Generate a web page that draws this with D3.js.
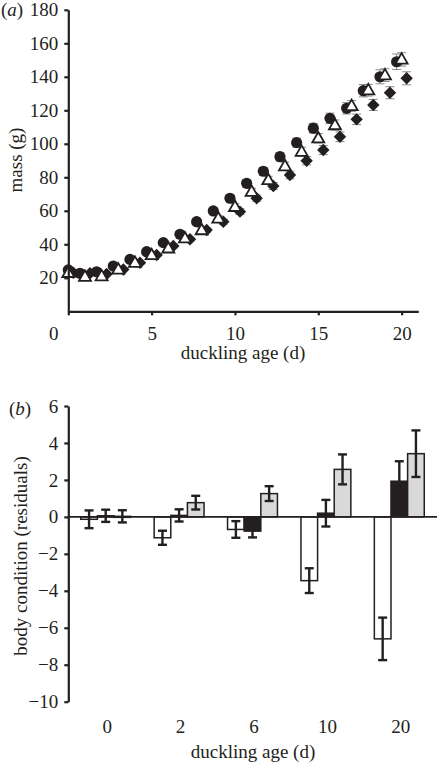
<!DOCTYPE html>
<html><head><meta charset="utf-8">
<script src="https://cdn.jsdelivr.net/npm/d3@7"></script>
<style>
body{margin:0;background:#fff}
svg{display:block}
text{font-family:"Liberation Serif","Times New Roman",serif;fill:#231f20}
</style>
</head><body>
<svg id="c" width="437" height="763"></svg>
<script>
// ---------- Panel (a) data ----------
const ages = [0,1,2,3,4,5,6,7,8,9,10,11,12,13,14,15,16,17,18,19,20];
const massCircle   = [24.7,22.7,23.6,27,31,35.6,41,46,53.5,59.9,67.5,76.4,83.6,92.3,100.7,109.3,115.2,121.2,131.7,140,149];
const massTriangle = [23,20.7,21,25,29,33.6,37.6,43.6,48.5,55.5,62.4,71.4,78.4,86.7,95.3,103.3,111.2,122.6,132,141,150.4];
const massDiamond  = [23,22.7,22.3,25,29,33.6,39,43,48.5,53.5,59.5,67.5,74.8,81.4,89.9,96.3,104.2,114.6,123.2,130.5,139.1];
const seCircle   = [0.8,0.6,0.7,0.8,0.9,1.0,1.1,1.3,1.5,1.7,1.9,2.1,2.3,2.5,2.7,2.9,3.1,3.4,3.7,4.2,4.6];
const seTriangle = [0.8,0.6,0.7,0.8,0.9,1.0,1.1,1.2,1.4,1.6,1.8,2.0,2.2,2.4,2.6,2.8,3.0,3.2,3.5,3.8,4.0];
const seDiamond  = [0.7,0.6,0.6,0.7,0.8,0.9,1.0,1.1,1.3,1.5,1.7,1.9,2.1,2.3,2.5,2.7,2.9,3.1,3.3,3.6,3.9];
const massTicks = [20,40,60,80,100,120,140,160,180];
const ageTicks = [0,5,10,15,20];

// ---------- Panel (b) data ----------
const groups = ["0","2","6","10","20"];
const condWhite = [-0.13,-1.13,-0.68,-3.45,-6.6];
const condBlack = [0.06,0.08,-0.77,0.2,1.93];
const condGrey  = [0.03,0.77,1.26,2.57,3.42];
const seWhite = [0.48,0.38,0.45,0.67,1.15];
const seBlack = [0.33,0.33,0.34,0.72,1.08];
const seGrey  = [0.33,0.37,0.40,0.81,1.26];
const condTicks = [-10,-8,-6,-4,-2,0,2,4,6];

const ink = "#231f20";
const svg = d3.select("#c");
const FS = 19;

// ================= Panel (a) =================
const xa = d3.scaleLinear().domain([0,21]).range([68.3,418.3]);
const ya = d3.scaleLinear().domain([0,180]).range([311.3,9.8]);

const series = [
  {vals: massCircle, se: seCircle, off: -0.3, type: "circle"},
  {vals: massTriangle, se: seTriangle, off: 0, type: "triangle"},
  {vals: massDiamond, se: seDiamond, off: 0.3, type: "diamond"}
];
const gA = svg.append("g");
series.forEach(s => {
  const g = gA.append("g").attr("stroke","#8a8a8a").attr("stroke-width",1);
  ages.forEach((a,i) => {
    const cx = xa(Math.max(0, a + s.off));
    const y1 = ya(s.vals[i] + s.se[i]), y2 = ya(s.vals[i] - s.se[i]);
    g.append("line").attr("x1",cx).attr("x2",cx).attr("y1",y1).attr("y2",y2);
    g.append("line").attr("x1",cx-4.5).attr("x2",cx+4.5).attr("y1",y1).attr("y2",y1);
    g.append("line").attr("x1",cx-4.5).attr("x2",cx+4.5).attr("y1",y2).attr("y2",y2);
  });
});
const order = [series[2], series[0], series[1]];
order.forEach(s => {
  ages.forEach((a,i) => {
    const cx = xa(Math.max(0, a + s.off)), cy = ya(s.vals[i]);
    if (s.type === "circle") {
      gA.append("circle").attr("cx",cx).attr("cy",cy).attr("r",5.6).attr("fill",ink);
    } else if (s.type === "diamond") {
      const r = 6.2;
      gA.append("path").attr("d",`M${cx},${cy-r}L${cx+r},${cy}L${cx},${cy+r}L${cx-r},${cy}Z`).attr("fill",ink);
    } else {
      const h = 10.5, w = 12;
      gA.append("path").attr("d",`M${cx},${cy-h*0.6}L${cx+w/2},${cy+h*0.4}L${cx-w/2},${cy+h*0.4}Z`)
        .attr("fill","#fff").attr("stroke",ink).attr("stroke-width",1.8).attr("stroke-linejoin","miter");
    }
  });
});

const yAxA = svg.append("g").attr("transform",`translate(${xa(0)},0)`)
  .call(d3.axisLeft(ya).tickValues(massTicks).tickSize(4).tickSizeOuter(0).tickPadding(6));
const xAxA = svg.append("g").attr("transform",`translate(0,${ya(0)})`)
  .call(d3.axisBottom(xa).tickValues(ageTicks).tickSize(4).tickSizeOuter(0).tickPadding(11));
[yAxA, xAxA].forEach(ax => {
  ax.selectAll("path.domain").attr("stroke",ink).attr("stroke-width",2.2);
  ax.selectAll(".tick line").attr("stroke",ink).attr("stroke-width",2.2);
  ax.selectAll(".tick text").attr("font-family","Liberation Serif").attr("font-size",FS).attr("fill",ink);
});
xAxA.selectAll(".tick text").filter(d => d === 0).attr("x",-15);

svg.append("text").attr("x",243).attr("y",359).attr("text-anchor","middle").attr("font-size",FS).text("duckling age (d)");
svg.append("text").attr("transform","translate(22,160) rotate(-90)").attr("text-anchor","middle").attr("font-size",FS).text("mass (g)");
const la = svg.append("text").attr("x",1).attr("y",16).attr("font-size",FS);
la.append("tspan").text("(");
la.append("tspan").attr("font-style","italic").text("a");
la.append("tspan").text(")");

// ================= Panel (b) =================
const yb = d3.scaleLinear().domain([-10,6]).range([701.7,406]);
const x0 = d3.scaleBand().domain(groups).range([69,436]).paddingInner(0.32).paddingOuter(0.16);
const kinds = ["white","black","grey"];
const x1 = d3.scaleBand().domain(kinds).range([0,x0.bandwidth()]);
const fills = {white:"#ffffff", black:ink, grey:"#d9d9d9"};
const barData = [];
groups.forEach((g,i) => {
  barData.push({g, k:"white", v:condWhite[i], se:seWhite[i]});
  barData.push({g, k:"black", v:condBlack[i], se:seBlack[i]});
  barData.push({g, k:"grey",  v:condGrey[i],  se:seGrey[i]});
});
const gB = svg.append("g");
gB.selectAll("rect").data(barData).join("rect")
  .attr("x", d => x0(d.g) + x1(d.k))
  .attr("width", x1.bandwidth())
  .attr("y", d => yb(Math.max(0,d.v)))
  .attr("height", d => Math.max(1, Math.abs(yb(d.v) - yb(0))))
  .attr("fill", d => fills[d.k])
  .attr("stroke", ink).attr("stroke-width",1.5);
svg.append("line").attr("x1",68).attr("x2",437).attr("y1",yb(0)).attr("y2",yb(0)).attr("stroke",ink).attr("stroke-width",1.8);
const ge = svg.append("g").attr("stroke",ink).attr("stroke-width",2.4);
barData.forEach(d => {
  const cx = x0(d.g) + x1(d.k) + x1.bandwidth()/2;
  const y1 = yb(d.v + d.se), y2 = yb(d.v - d.se);
  ge.append("line").attr("x1",cx).attr("x2",cx).attr("y1",y1).attr("y2",y2);
  ge.append("line").attr("x1",cx-4.5).attr("x2",cx+4.5).attr("y1",y1).attr("y2",y1);
  ge.append("line").attr("x1",cx-4.5).attr("x2",cx+4.5).attr("y1",y2).attr("y2",y2);
});

const yAxB = svg.append("g").attr("transform","translate(68.3,0)")
  .call(d3.axisLeft(yb).tickValues(condTicks).tickSize(4).tickSizeOuter(0).tickPadding(6));
yAxB.selectAll("path.domain").attr("stroke",ink).attr("stroke-width",2.2);
yAxB.selectAll(".tick line").attr("stroke",ink).attr("stroke-width",2.2);
yAxB.selectAll(".tick text").attr("font-family","Liberation Serif").attr("font-size",FS).attr("fill",ink);

svg.append("g").selectAll("text").data(groups).join("text")
  .attr("x", d => x0(d) + x0.bandwidth()/2 + 1.5)
  .attr("y", 733)
  .attr("text-anchor","middle").attr("font-size",FS).text(d => d);

svg.append("text").attr("x",253).attr("y",758).attr("text-anchor","middle").attr("font-size",FS).text("duckling age (d)");
svg.append("text").attr("transform","translate(27,556) rotate(-90)").attr("text-anchor","middle").attr("font-size",FS).text("body condition (residuals)");
const lb = svg.append("text").attr("x",9).attr("y",415).attr("font-size",FS);
lb.append("tspan").text("(");
lb.append("tspan").attr("font-style","italic").text("b");
lb.append("tspan").text(")");
</script>
</body></html>
